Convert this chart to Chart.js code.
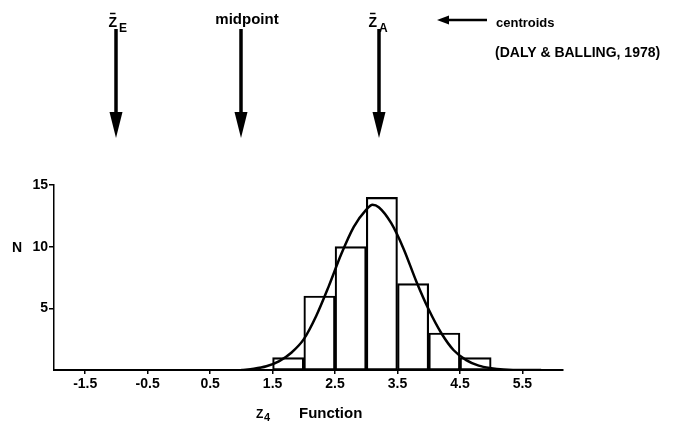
<!DOCTYPE html>
<html>
<head>
<meta charset="utf-8">
<script src="https://cdn.jsdelivr.net/npm/chart.js@4/dist/chart.umd.min.js"></script>
<style>
html,body{margin:0;padding:0;background:#fff;}
#wrap{width:675px;height:422px;position:relative;}
</style>
</head>
<body>
<div id="wrap"><canvas id="c" width="675" height="422"></canvas></div>
<script>
// ---- data ----
const binStarts = [1.5, 2.0, 2.5, 3.0, 3.5, 4.0, 4.5];
const binWidth = 0.5;
const counts = [1, 6, 10, 14, 7, 3, 1];
const curveX = [1.0, 1.2, 1.4, 1.6, 1.8, 2.0, 2.2, 2.4, 2.6, 2.8, 3.0, 3.1, 3.2, 3.4, 3.6, 3.8, 4.0, 4.2, 4.4, 4.6, 4.8, 5.0, 5.2, 5.5, 5.8];
const curveY = [0.0, 0.1, 0.3, 0.7, 1.4, 2.5, 4.4, 6.8, 9.4, 11.6, 13.0, 13.4, 13.2, 11.9, 9.8, 7.2, 4.9, 3.0, 1.6, 0.8, 0.35, 0.15, 0.05, 0.0, 0.0];
const xTicks = [-1.5, -0.5, 0.5, 1.5, 2.5, 3.5, 4.5, 5.5];
const yTicks = [5, 10, 15];
const markers = [
  {label: 'Z', sub: 'E', value: -1.0},
  {label: 'midpoint', sub: '', value: 1.0},
  {label: 'Z', sub: 'A', value: 3.2}
];

const FONT = '"Liberation Sans", Arial, sans-serif';

const annot = {
  id: 'annot',
  afterDraw(chart) {
    const ctx = chart.ctx;
    const xs = chart.scales.x;
    ctx.save();
    ctx.fillStyle = '#000';
    ctx.strokeStyle = '#000';
    // down arrows
    markers.forEach((m, i) => {
      const px = Math.round(xs.getPixelForValue(m.value));
      ctx.lineWidth = 3.5;
      ctx.beginPath();
      ctx.moveTo(px, 29);
      ctx.lineTo(px, 118);
      ctx.stroke();
      ctx.beginPath();
      ctx.moveTo(px - 6.5, 112);
      ctx.lineTo(px + 6.5, 112);
      ctx.lineTo(px, 138);
      ctx.closePath();
      ctx.fill();
      if (m.sub) {
        const zr = i === 0 ? px + 1 : px - 2;
        ctx.font = 'bold 14px ' + FONT;
        ctx.textAlign = 'right';
        ctx.textBaseline = 'alphabetic';
        ctx.fillText(m.label, zr, 27);
        const w = ctx.measureText(m.label).width;
        ctx.lineWidth = 1.5;
        ctx.beginPath();
        ctx.moveTo(zr - w + 1.5, 13.5);
        ctx.lineTo(zr - 1.5, 13.5);
        ctx.stroke();
        ctx.font = 'bold 12px ' + FONT;
        ctx.textAlign = 'left';
        ctx.fillText(m.sub, zr + 2, 32);
      } else {
        ctx.font = 'bold 15px ' + FONT;
        ctx.textAlign = 'center';
        ctx.fillText(m.label, px + 6, 24);
      }
    });
    // centroids pointer
    ctx.lineWidth = 2.5;
    ctx.beginPath();
    ctx.moveTo(445, 20);
    ctx.lineTo(487, 20);
    ctx.stroke();
    ctx.beginPath();
    ctx.moveTo(437, 20);
    ctx.lineTo(449, 15.5);
    ctx.lineTo(449, 24.5);
    ctx.closePath();
    ctx.fill();
    ctx.textAlign = 'left';
    ctx.font = 'bold 13px ' + FONT;
    ctx.fillText('centroids', 496, 27);
    ctx.font = 'bold 14px ' + FONT;
    ctx.fillText('(DALY & BALLING, 1978)', 495, 57);
    // axis titles
    ctx.font = 'bold 14px ' + FONT;
    ctx.fillText('N', 12, 252);
    ctx.font = 'bold 12px ' + FONT;
    ctx.fillText('Z', 256, 418);
    ctx.font = 'bold 11px ' + FONT;
    ctx.fillText('4', 264, 421);
    ctx.font = 'bold 15px ' + FONT;
    ctx.fillText('Function', 299, 418);
    ctx.restore();
  }
};

const barData = binStarts.map((s, i) => ({x: s + binWidth / 2, y: counts[i]}));
const lineData = curveX.map((x, i) => ({x: x, y: curveY[i]}));

new Chart(document.getElementById('c'), {
  data: {
    datasets: [
      {
        type: 'line',
        data: lineData,
        borderColor: '#000',
        borderWidth: 2.5,
        pointRadius: 0,
        cubicInterpolationMode: 'monotone',
        fill: false,
        order: 0
      },
      {
        type: 'bar',
        data: barData,
        backgroundColor: 'rgba(255,255,255,0)',
        borderColor: '#000',
        borderWidth: 1.5,
        borderSkipped: false,
        barPercentage: 1.0,
        categoryPercentage: 1.0,
        order: 1
      }
    ]
  },
  plugins: [annot],
  options: {
    responsive: false,
    animation: false,
    events: [],
    layout: {padding: {left: 0, right: 112, top: 185, bottom: 0}},
    plugins: {legend: {display: false}, tooltip: {enabled: false}},
    scales: {
      x: {
        type: 'linear',
        min: -2.0,
        max: 6.15,
        offset: false,
        afterBuildTicks(s) { s.ticks = xTicks.map(v => ({value: v})); },
        afterFit(s) { s.height = 52; },
        ticks: {
          color: '#000',
          font: {family: FONT, size: 14, weight: 'bold'},
          padding: 2,
          maxRotation: 0,
          autoSkip: false,
          callback: v => String(v)
        },
        grid: {offset: false, drawOnChartArea: false, drawTicks: true, tickLength: 4, color: '#000', lineWidth: 1.5},
        border: {display: true, color: '#000', width: 2}
      },
      y: {
        type: 'linear',
        min: 0,
        max: 15,
        afterBuildTicks(s) { s.ticks = yTicks.map(v => ({value: v})); },
        afterFit(s) { s.width = 54; },
        ticks: {
          color: '#000',
          font: {family: FONT, size: 14, weight: 'bold'},
          padding: 1,
          callback: v => String(v)
        },
        grid: {offset: false, drawOnChartArea: false, drawTicks: true, tickLength: 5, color: '#000', lineWidth: 1.5},
        border: {display: true, color: '#000', width: 1.5}
      }
    }
  }
});
</script>
</body>
</html>
